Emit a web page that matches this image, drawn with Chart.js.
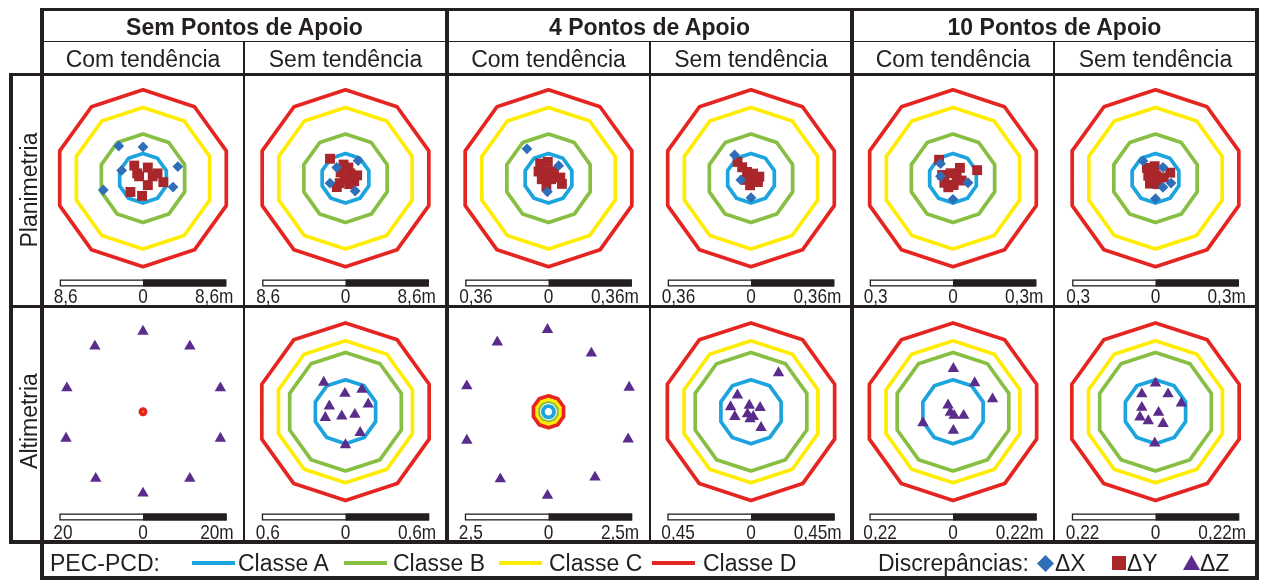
<!DOCTYPE html>
<html>
<head>
<meta charset="utf-8">
<script src="https://cdn.jsdelivr.net/npm/chart.js@4.4.1/dist/chart.umd.min.js"></script>
<style>
  html, body { margin: 0; padding: 0; background: #fff; }
  #fig { position: relative; width: 1262px; height: 580px; overflow: hidden;
         font-family: "Liberation Sans", Arial, sans-serif; color: #231f20; }
  .ln { position: absolute; background: #231f20; z-index: 5; }
  .txt { position: absolute; white-space: nowrap; z-index: 6; }
  canvas { position: absolute; z-index: 1; }
  svg.sym { position: absolute; z-index: 6; overflow: visible; }
</style>
</head>
<body>
<div id="fig"></div>
<script>
// ---------- labels ----------
const groupTitles = ['Sem Pontos de Apoio', '4 Pontos de Apoio', '10 Pontos de Apoio'];
const trendTitles = ['Com tendência', 'Sem tendência'];
const rowTitles = ['Planimetria', 'Altimetria'];
const classNames = ['Classe A', 'Classe B', 'Classe C', 'Classe D'];
const classColors = ['#1ba4de', '#86bf41', '#ffec00', '#e52521'];

// PEC-PCD class limits as a fraction of the Class D limit
const planClassFrac = [0.28, 0.5, 0.8, 1.0];
const altClassFrac = [0.36, 0.667, 0.8, 1.0];

// Class D limit (m) for each column
const planClassD = [8.6, 8.6, 0.36, 0.36, 0.3, 0.3];
const altClassD = [0.6, 0.6, 0.45, 0.45, 0.22, 0.22];

// half length of the scale bar (m) for each column
const planBar = [8.6, 8.6, 0.36, 0.36, 0.3, 0.3];
const altBar = [20, 0.6, 2.5, 0.45, 0.22, 0.22];

// ---------- discrepancies [x, y] (m) ----------
// Planimetria
const plan_sem_ct_dX = [[-2.5, 3.3], [0.0, 3.2], [3.6, 1.2], [-2.2, 0.8], [-4.1, -1.2], [3.1, -0.9]];
const plan_sem_ct_dY = [[-0.9, 1.3], [0.5, 1.1], [1.5, 0.5], [-0.4, 0.2], [2.1, -0.4], [0.5, -0.7],
                        [-1.3, -1.4], [-0.1, -1.8], [-0.6, 0.5], [1.0, 0.2]];
const plan_sem_st_dX = [[1.3, 1.8], [-0.9, 1.1], [-1.6, -0.5], [1.0, -1.3]];
const plan_sem_st_dY = [[-1.6, 2.0], [-0.2, 1.4], [0.3, 1.1], [-0.5, 0.6], [0.5, 0.5], [1.2, 0.3],
                        [-0.6, -0.5], [0.4, -0.6], [-0.1, -0.1], [0.9, -0.3], [-0.9, -0.9]];
const plan_4p_ct_dX = [[-0.093, 0.126], [0.044, 0.054], [-0.005, -0.058]];
const plan_4p_ct_dY = [[-0.036, 0.063], [-0.003, 0.07], [-0.043, 0.029], [-0.009, 0.029], [0.024, 0.029],
                       [-0.029, -0.004], [0.011, -0.004], [0.051, 0.003], [-0.009, -0.035], [0.058, -0.024]];
const plan_4p_st_dX = [[-0.071, 0.1], [-0.044, -0.007], [0.0, -0.083]];
const plan_4p_st_dY = [[-0.058, 0.07], [-0.038, 0.047], [-0.017, 0.027], [0.009, 0.02], [-0.024, -0.007],
                       [0.009, -0.007], [0.036, 0.007], [-0.004, -0.03], [0.03, -0.016]];
const plan_10p_ct_dX = [[-0.045, 0.052], [0.054, -0.016], [0.0, -0.075], [-0.045, 0.007]];
const plan_10p_ct_dY = [[-0.05, 0.066], [0.025, 0.037], [0.087, 0.029], [-0.039, 0.012], [-0.009, 0.018],
                        [0.013, 0.007], [-0.031, -0.016], [0.002, -0.024], [0.031, -0.008], [-0.017, -0.032]];
const plan_10p_st_dX = [[-0.045, 0.062], [0.027, 0.039], [0.056, -0.017], [0.027, -0.032], [0.0, -0.073]];
const plan_10p_st_dY = [[-0.031, 0.037], [-0.003, 0.043], [0.053, 0.02], [-0.026, 0.009], [0.002, 0.009],
                        [0.03, 0.003], [-0.02, -0.019], [0.008, -0.021]];
// Altimetria
const alt_sem_ct_dZ = [[0, 19.0], [-11.5, 15.5], [11.2, 15.5], [-18.2, 5.6], [18.5, 5.6],
                       [-18.4, -6.3], [18.5, -6.3], [-11.3, -15.8], [11.2, -15.8], [0, -19.3]];
const alt_sem_st_dZ = [[-0.156, 0.208], [-0.004, 0.129], [0.118, 0.158], [-0.116, 0.04], [0.163, 0.054],
                       [-0.145, -0.042], [-0.027, -0.031], [0.067, -0.02], [0.105, -0.149], [0.0, -0.236]];
const alt_4p_ct_dZ = [[-0.03, 2.43], [-1.53, 2.06], [1.28, 1.73], [-2.44, 0.76], [2.41, 0.72],
                      [-2.44, -0.85], [2.38, -0.81], [-1.44, -1.99], [1.39, -1.94], [-0.03, -2.48]];
const alt_4p_st_dZ = [[0.148, 0.207], [-0.073, 0.088], [-0.11, 0.026], [-0.087, -0.026], [-0.009, 0.034],
                      [-0.019, -0.012], [0.012, -0.026], [0.049, 0.022], [-0.005, -0.039], [0.054, -0.085]];
const alt_10p_ct_dZ = [[0.001, 0.112], [0.057, 0.075], [0.104, 0.033], [-0.013, 0.017], [-0.007, -0.002],
                       [0.003, -0.01], [0.028, -0.01], [-0.079, -0.029], [0.001, -0.049]];
const alt_10p_st_dZ = [[0.0, 0.074], [-0.036, 0.046], [0.033, 0.046], [0.068, 0.022], [-0.036, 0.011],
                       [-0.041, -0.014], [0.008, -0.002], [-0.019, -0.024], [0.02, -0.031], [-0.002, -0.082]];

// ---------- styling ----------
const INK = '#231f20';
const COL_DX = '#2f6eb8';
const COL_DY = '#a9272b';
const COL_DZ = '#5a2c8c';
const FONT = '"Liberation Sans", Arial, sans-serif';

// ---------- layout ----------
const colX = [42, 244, 447, 650, 852, 1054, 1257];
const rowTop = [74, 306];
const rowH = [233, 236];
const centerOff = [103.5, 105];   // polygon centre below row top
const barTopOff = [205.5, 207.5]; // scale bar below row top
const barLabelOff = [229, 233];   // label baseline below row top
const BAR_HALF_PX = 89.5;
const BAR_H = 7;

const fig = document.getElementById('fig');

function rect(x, y, w, h, color) {
  const d = document.createElement('div');
  d.className = 'ln';
  d.style.left = x + 'px'; d.style.top = y + 'px';
  d.style.width = w + 'px'; d.style.height = h + 'px';
  if (color) d.style.background = color;
  fig.appendChild(d);
  return d;
}
function hLine(y, x1, x2, t) { rect(x1, y - t / 2, x2 - x1, t); }
function vLine(x, y1, y2, t) { rect(x - t / 2, y1, t, y2 - y1); }

function textAt(str, cx, cy, opt) {
  opt = opt || {};
  const d = document.createElement('div');
  d.className = 'txt';
  d.textContent = str;
  d.style.font = (opt.bold ? 'bold ' : '') + (opt.size || 23) + 'px ' + FONT;
  d.style.lineHeight = '40px';
  d.style.height = '40px';
  d.style.top = (cy - 20) + 'px';
  if (opt.align === 'left') {
    d.style.left = cx + 'px';
  } else {
    d.style.left = (cx - 300) + 'px';
    d.style.width = '600px';
    d.style.textAlign = 'center';
  }
  if (opt.rotate) d.style.transform = 'rotate(-90deg)';
  fig.appendChild(d);
  return d;
}

// ---------- chart helpers ----------
const toXY = arr => arr.map(p => ({ x: p[0], y: p[1] }));

// regular decagon (vertex at top) whose flat sides sit at distance r from the centre
function classRing(r, color) {
  const R = r / Math.cos(Math.PI / 10);
  const pts = [{ x: -r, y: 0 }];
  for (let i = 0; i < 10; i++) {
    const a = (198 + 36 * i) * Math.PI / 180;
    pts.push({ x: R * Math.cos(a), y: R * Math.sin(a) });
  }
  pts.push({ x: -r, y: 0 });
  return {
    data: pts, showLine: true, pointRadius: 0, borderColor: color, borderWidth: 3.7,
    borderJoinStyle: 'round', borderCapStyle: 'round', fill: false, tension: 0
  };
}

function narrowText(ctx, str, x, y, align) {
  ctx.save();
  ctx.translate(x, y);
  ctx.scale(0.82, 1);
  ctx.textAlign = align;
  ctx.fillText(str, 0, 0);
  ctx.restore();
}

const scaleBarPlugin = {
  id: 'scaleBar',
  afterDatasetsDraw(chart, args, o) {
    const ctx = chart.ctx, xs = chart.scales.x;
    const xl = xs.getPixelForValue(-o.half);
    const xm = xs.getPixelForValue(0);
    const xr = xs.getPixelForValue(o.half);
    ctx.save();
    ctx.fillStyle = '#fff';
    ctx.fillRect(xl, o.top, xm - xl, BAR_H);
    ctx.fillStyle = INK;
    ctx.fillRect(xm, o.top, xr - xm, BAR_H);
    ctx.strokeStyle = INK;
    ctx.lineWidth = 1.3;
    ctx.strokeRect(xl + 0.65, o.top + 0.65, xr - xl - 1.3, BAR_H - 1.3);
    const lab = String(o.half).replace('.', ',');
    ctx.font = '21px ' + FONT;
    ctx.textBaseline = 'alphabetic';
    ctx.fillStyle = INK;
    narrowText(ctx, lab, xl - 6, o.base, 'left');
    narrowText(ctx, '0', xm, o.base, 'center');
    narrowText(ctx, lab + 'm', xr + 7, o.base, 'right');
    ctx.restore();
  }
};

function makePanel(row, col, p) {
  const W = colX[col + 1] - colX[col];
  const H = rowH[row];
  const cv = document.createElement('canvas');
  cv.width = W; cv.height = H;
  cv.style.left = colX[col] + 'px';
  cv.style.top = rowTop[row] + 'px';
  fig.appendChild(cv);

  const k = BAR_HALF_PX / p.bar;
  const cy = centerOff[row];
  const datasets = [];
  if (p.dX) datasets.push({ label: 'ΔX', data: toXY(p.dX), pointStyle: 'rectRot', pointRadius: 5.4,
                            backgroundColor: COL_DX, borderColor: COL_DX, borderWidth: 0 });
  if (p.dY) datasets.push({ label: 'ΔY', data: toXY(p.dY), pointStyle: 'rect', pointRadius: 7,
                            backgroundColor: COL_DY, borderColor: COL_DY, borderWidth: 0 });
  if (p.dZ) datasets.push({ label: 'ΔZ', data: toXY(p.dZ), pointStyle: 'triangle', pointRadius: 6.6,
                            backgroundColor: COL_DZ, borderColor: COL_DZ, borderWidth: 0 });
  for (let i = 3; i >= 0; i--) datasets.push(classRing(p.frac[i] * p.classD, classColors[i]));

  new Chart(cv, {
    type: 'scatter',
    data: { datasets },
    options: {
      responsive: false, animation: false, events: [],
      layout: { padding: 0 },
      plugins: {
        legend: { display: false }, tooltip: { enabled: false },
        scaleBar: { half: p.bar, top: barTopOff[row], base: barLabelOff[row] }
      },
      scales: {
        x: { type: 'linear', display: false, min: -(W / 2) / k, max: (W / 2) / k },
        y: { type: 'linear', display: false, min: -(H - cy) / k, max: cy / k }
      }
    },
    plugins: [scaleBarPlugin]
  });
}

// ---------- panels ----------
const planPoints = [
  [plan_sem_ct_dX, plan_sem_ct_dY], [plan_sem_st_dX, plan_sem_st_dY],
  [plan_4p_ct_dX, plan_4p_ct_dY], [plan_4p_st_dX, plan_4p_st_dY],
  [plan_10p_ct_dX, plan_10p_ct_dY], [plan_10p_st_dX, plan_10p_st_dY]
];
const altPoints = [alt_sem_ct_dZ, alt_sem_st_dZ, alt_4p_ct_dZ, alt_4p_st_dZ, alt_10p_ct_dZ, alt_10p_st_dZ];

for (let c = 0; c < 6; c++) {
  makePanel(0, c, { dX: planPoints[c][0], dY: planPoints[c][1], frac: planClassFrac,
                    classD: planClassD[c], bar: planBar[c] });
  makePanel(1, c, { dZ: altPoints[c], frac: altClassFrac, classD: altClassD[c], bar: altBar[c] });
}

// ---------- table frame ----------
hLine(9.3, 40.3, 1258.7, 3.5);
hLine(41.5, 42, 1257, 1.8);
hLine(74.5, 9, 1258.7, 3.5);
hLine(306.5, 9, 1258.7, 2.5);
hLine(542, 9, 1258.7, 3.5);
hLine(578, 40.3, 1258.7, 3.5);
vLine(11, 72.8, 543.7, 3.5);
vLine(42, 7.6, 579.7, 3.5);
vLine(447, 7.6, 543, 3.5);
vLine(852, 7.6, 543, 3.5);
vLine(1257, 7.6, 579.7, 3.5);
[244, 650, 1054].forEach(x => vLine(x, 41.5, 543, 1.6));

// ---------- headers ----------
for (let g = 0; g < 3; g++) {
  textAt(groupTitles[g], (colX[2 * g] + colX[2 * g + 2]) / 2, 26.5, { bold: true });
  for (let t = 0; t < 2; t++) {
    const c = 2 * g + t;
    textAt(trendTitles[t], (colX[c] + colX[c + 1]) / 2, 58.5);
  }
}
textAt(rowTitles[0], 29, 190, { rotate: true });
textAt(rowTitles[1], 29, 421, { rotate: true });

// ---------- legend ----------
const LY = 563;
textAt('PEC-PCD:', 50, LY, { align: 'left' });
const legSwatchX = [192, 344, 499, 652];
const legTextX = [238, 393, 549, 703];
for (let i = 0; i < 4; i++) {
  rect(legSwatchX[i], LY - 2, 43, 4, classColors[i]);
  textAt(classNames[i], legTextX[i], LY, { align: 'left' });
}
textAt('Discrepâncias:', 878, LY, { align: 'left' });

function sym(x, y, w, h, inner) {
  const ns = 'http://www.w3.org/2000/svg';
  const s = document.createElementNS(ns, 'svg');
  s.setAttribute('class', 'sym');
  s.setAttribute('width', w); s.setAttribute('height', h);
  s.style.left = x + 'px'; s.style.top = y + 'px';
  s.innerHTML = inner;
  fig.appendChild(s);
}
sym(1037, LY - 8.5, 17, 17, `<polygon points="8.5,0 17,8.5 8.5,17 0,8.5" fill="${COL_DX}"/>`);
textAt('ΔX', 1055, LY, { align: 'left' });
sym(1112, LY - 7, 14, 14, `<rect x="0" y="0" width="14" height="14" fill="${COL_DY}"/>`);
textAt('ΔY', 1127, LY, { align: 'left' });
sym(1183, LY - 8, 17, 15, `<polygon points="8.5,0 17,15 0,15" fill="${COL_DZ}"/>`);
textAt('ΔZ', 1200, LY, { align: 'left' });
</script>
</body>
</html>
